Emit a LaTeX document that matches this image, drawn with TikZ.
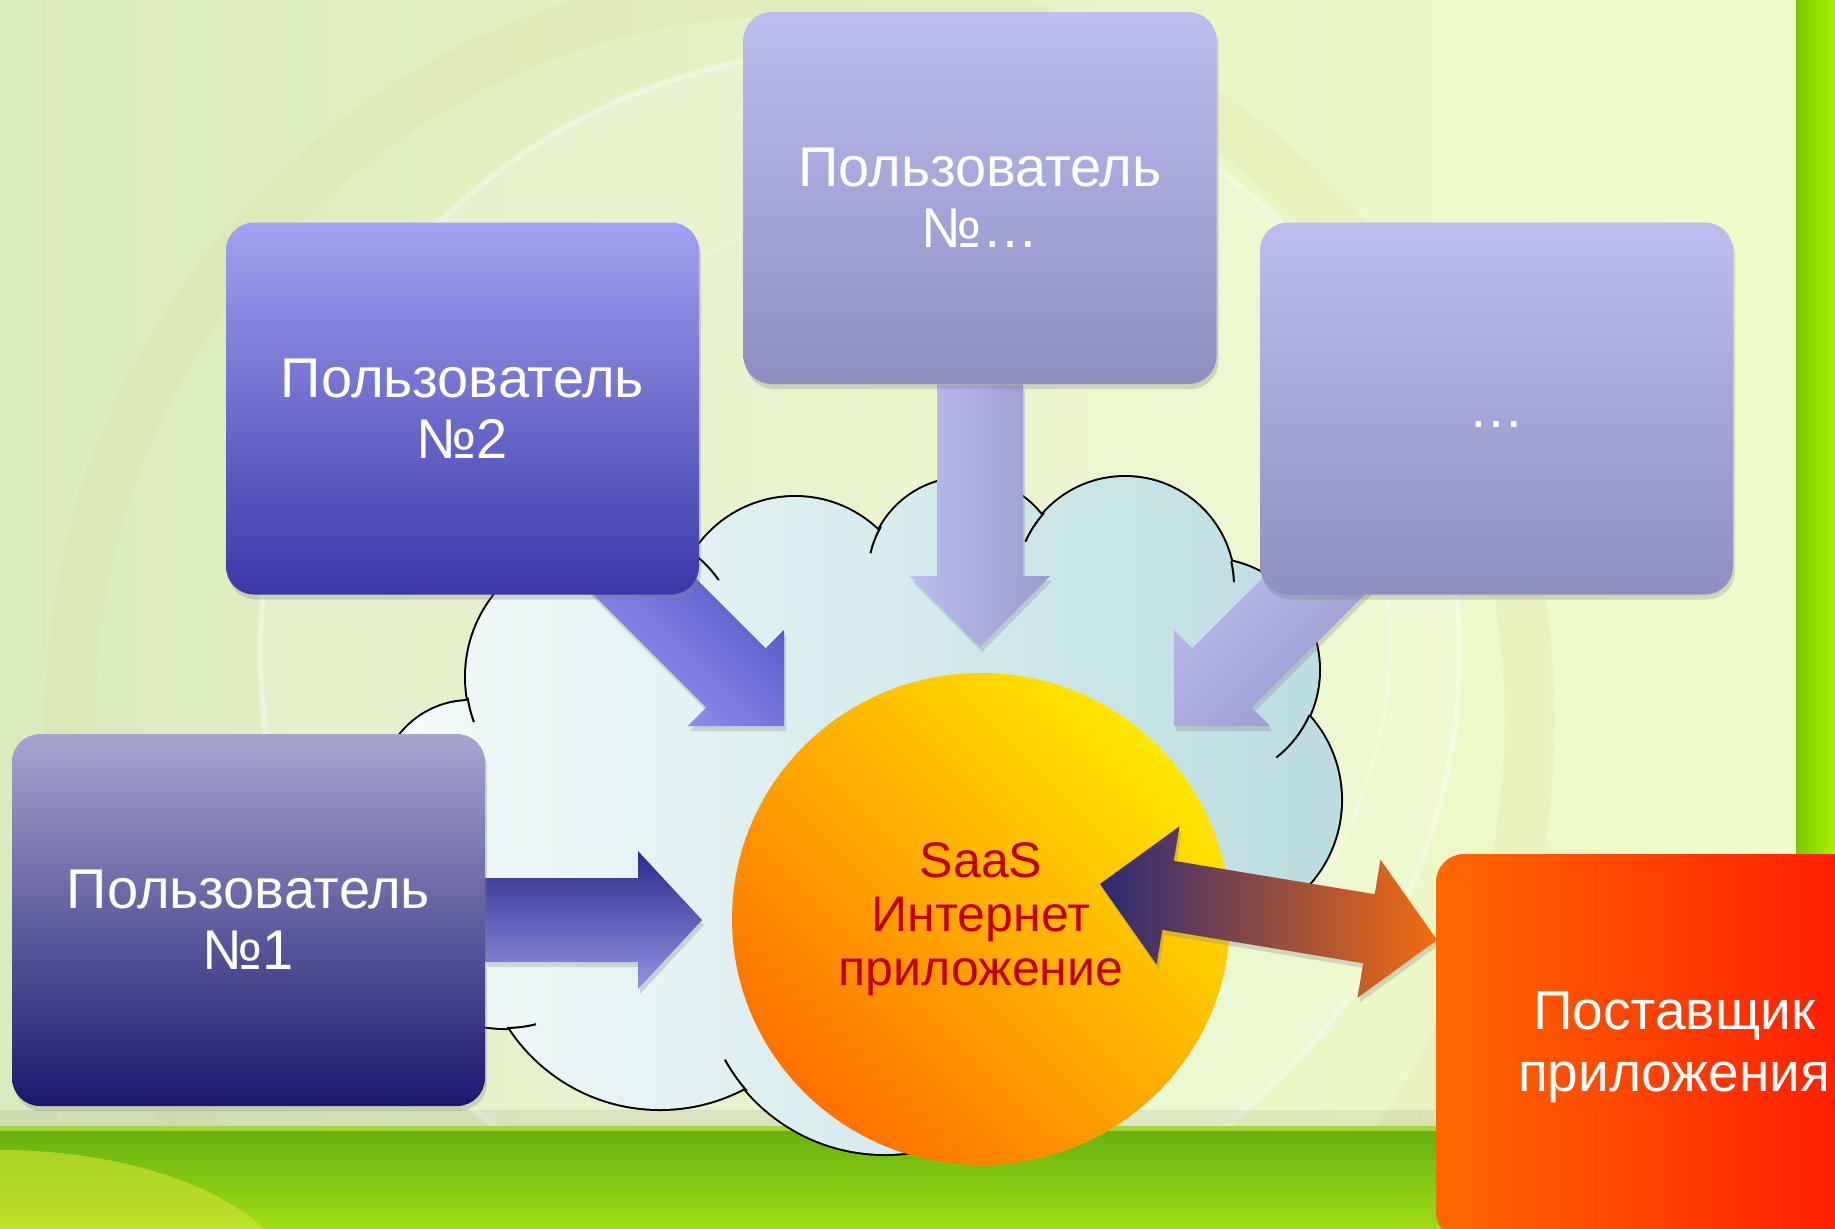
\documentclass[tikz,border=0pt]{standalone}
\usepackage{fontspec}
\setmainfont{Liberation Sans}
\usetikzlibrary{calc,shapes.geometric,shadows}

\definecolor{bgleft}{HTML}{DCEBBE}
\definecolor{bgright}{HTML}{F0FBCA}
\definecolor{bandline}{HTML}{A6D63E}
\definecolor{bandtop}{HTML}{68B20E}
\definecolor{bandbot}{HTML}{A0DC16}
\definecolor{bandyellow}{HTML}{D8E63A}
\definecolor{stripl}{HTML}{78C800}
\definecolor{stripr}{HTML}{A8F200}
\definecolor{cloudl}{HTML}{F6FBFA}
\definecolor{cloudr}{HTML}{BADDE0}
\definecolor{oneTop}{HTML}{A7A5CF}
\definecolor{oneBot}{HTML}{1B176F}
\definecolor{twoTop}{HTML}{A2A2F2}
\definecolor{twoBot}{HTML}{3A38A8}
\definecolor{lavTop}{HTML}{BDBDF0}
\definecolor{lavBot}{HTML}{8E8EC2}
\definecolor{navyArr}{HTML}{2A2A8C}
\definecolor{paleArr}{HTML}{9494E2}
\definecolor{blueArr}{HTML}{4E4EC4}
\definecolor{periArr}{HTML}{9A9AF2}
\definecolor{lavArrR}{HTML}{9A9AD0}
\definecolor{lavArrB}{HTML}{9898CC}
\definecolor{sunA}{HTML}{FFE800}
\definecolor{sunB}{HTML}{FF7000}
\definecolor{saasred}{HTML}{C00000}
\definecolor{supL}{HTML}{FF6800}
\definecolor{supR}{HTML}{FF1200}
\definecolor{dblL}{HTML}{2A2A74}
\definecolor{dblR}{HTML}{F46C10}

\pgfdeclarelayer{back}
\pgfdeclarelayer{mid}
\pgfsetlayers{back,mid,main}

\tikzset{
  softshadow/.style={drop shadow={opacity=0.28, shadow xshift=1pt, shadow yshift=-2.5pt}},
  userbox/.style={rounded corners=14pt, minimum width=236.5pt, minimum height=186pt,
    inner sep=0pt, align=center, text=white, font=\fontsize{28}{30.3}\selectfont, softshadow},
  arrowone/.style={top color=navyArr, bottom color=paleArr, softshadow},
  arrowtwo/.style={top color=blueArr, bottom color=periArr, shading angle=-45, softshadow},
  arrowlav/.style={left color=lavTop, right color=lavArrR, softshadow},
  arrowfour/.style={top color=lavTop, bottom color=lavArrB, shading angle=45, softshadow},
  dblstyle/.style={left color=dblL, right color=dblR, softshadow}
}

% fat arrow: from, to, body half width, head half width, head length, style
\newcommand{\fatarrow}[6]{%
  \coordinate (fa-n) at ($(#2)!#5!(#1)$);
  \path[#6] ($(#1)!#3!90:(#2)$) -- ($(fa-n)!#3!-90:(#1)$) -- ($(fa-n)!#4!-90:(#1)$)
    -- (#2) -- ($(fa-n)!#4!90:(#1)$) -- ($(fa-n)!#3!90:(#1)$) -- ($(#1)!#3!-90:(#2)$) -- cycle;
}
\newcommand{\dblarrow}[6]{%
  \coordinate (da-a) at ($(#1)!#5!(#2)$);
  \coordinate (da-b) at ($(#2)!#5!(#1)$);
  \path[#6] (#1) -- ($(da-a)!#4!90:(#2)$) -- ($(da-a)!#3!90:(#2)$) -- ($(da-b)!#3!-90:(#1)$)
    -- ($(da-b)!#4!-90:(#1)$) -- (#2) -- ($(da-b)!#4!90:(#1)$) -- ($(da-b)!#3!90:(#1)$)
    -- ($(da-a)!#3!-90:(#2)$) -- ($(da-a)!#4!-90:(#2)$) -- cycle;
}
\def\cloudbumps{470/790/89, 598/677/132, 795/617/120, 965/575/97, 1125/586/109,
  1208/670/111, 1215/800/126, 885/971/183, 660/929/180, 505/900/128}

\begin{document}
\begin{tikzpicture}[x=0.5pt, y=-0.5pt]
  \useasboundingbox (0,0) rectangle (1835,1228);
  \clip (0,0) rectangle (1835,1228);

  \begin{pgfonlayer}{back}
    \clip (0,0) rectangle (1835,1228);
    % background
    \shade[left color=bgleft, right color=bgright] (0,0) rectangle (1835,1228);
    \fill[white, opacity=0.18] (860,650) circle[radius=600];
    \draw[white, opacity=0.35, line width=3pt] (860,650) circle[radius=600];
    \draw[white, opacity=0.25, line width=2pt] (940,640) circle[radius=450];
    \draw[olive!40, opacity=0.12, line width=25pt] (800,720) circle[radius=730];
    \fill[black, opacity=0.06] (0,1110) rectangle (1835,1126);
    \fill[bandline] (0,1126) rectangle (1835,1131);
    \shade[top color=bandtop, bottom color=bandbot] (0,1131) rectangle (1835,1228);
    \begin{scope}
      \clip (0,1131) rectangle (1835,1228);
      \fill[bandyellow, opacity=0.55] (0,1300) ellipse[x radius=300, y radius=150];
    \end{scope}
    \shade[left color=stripl, right color=stripr] (1796,0) rectangle (1835,1228);

    % cloud
    \foreach \cx/\cy/\r in \cloudbumps
      \draw[line width=2pt] (\cx,\cy) circle[radius=\r];
    \shade[left color=cloudl, right color=cloudr]
      \foreach \cx/\cy/\r in \cloudbumps { (\cx,\cy) circle[radius=\r] }
      (900,800) ellipse[x radius=350, y radius=260];
    \foreach \cx/\cy/\r/\a/\b in {965/575/97/193/210, 1125/586/109/204/222,
        1125/586/109/-13/-2, 1208/670/111/24/52, 885/971/183/139/151,
        505/900/128/76/89, 598/677/132/160/171, 630/640/107/-55/-34}
      \draw[line width=1pt] (\cx,\cy) ++(\a:\r) arc[start angle=\a, end angle=\b, radius=\r];
  \end{pgfonlayer}

  \coordinate (t1) at (702,920);
  \coordinate (s2) at (610,552);
  \coordinate (t2) at (784,726);
  \coordinate (t3) at (980,647);
  \coordinate (s4) at (1348,552);
  \coordinate (t4) at (1174,726);
  \coordinate (d1) at (1100,884);
  \coordinate (d2) at (1437,940);

  \node[userbox, top color=oneTop, bottom color=oneBot] (u1) at (248.5,920) {Пользователь\\№1};
  \node[userbox, top color=twoTop, bottom color=twoBot] (u2) at (462.5,408.5) {Пользователь\\№2};
  \node[userbox, top color=lavTop, bottom color=lavBot] (u3) at (980,198) {Пользователь\\№…};
  \node[userbox, top color=lavTop, bottom color=lavBot] (u4) at (1496.5,408.5) {\vphantom{П}…};

  \begin{pgfonlayer}{mid}
    \fatarrow{u1.east}{t1}{21pt}{34.5pt}{32pt}{arrowone}
    \fatarrow{s2}{t2}{21pt}{34pt}{34pt}{arrowtwo}
    \fatarrow{u3.south}{t3}{21.5pt}{35pt}{35.5pt}{arrowlav}
    \fatarrow{s4}{t4}{21pt}{34pt}{34pt}{arrowfour}
  \end{pgfonlayer}

  \node[ellipse, minimum width=249pt, minimum height=246pt, inner sep=0pt,
    top color=sunA, bottom color=sunB, shading angle=-45, text=saasred, align=center,
    font=\fontsize{25}{27}\selectfont] (saas) at (981,919) {SaaS\\Интернет\\приложение};

  \dblarrow{d1}{d2}{17.5pt}{35pt}{34.5pt}{dblstyle}

  \node[rounded corners=14pt, minimum width=238pt, minimum height=193pt, inner sep=0pt,
    left color=supL, right color=supR, text=white, align=center,
    font=\fontsize{27.5}{31}\selectfont] (sup) at (1674,1047) {Поставщик\\приложения};
\end{tikzpicture}
\end{document}
